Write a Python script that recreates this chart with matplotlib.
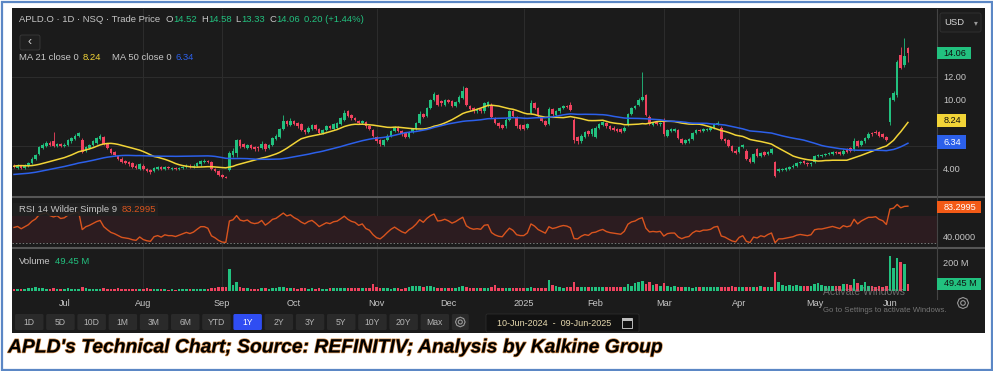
import matplotlib
matplotlib.use('Agg')
import matplotlib.pyplot as plt
import matplotlib.patheffects as pe
from matplotlib.patches import Rectangle, FancyBboxPatch, Circle, RegularPolygon
import numpy as np
import pandas as pd

# ------------------------------------------------------------------ data
start_date = '2024-06-10'
end_date = '2025-06-09'
holidays = ['2024-06-19', '2024-07-04', '2024-09-02', '2024-11-28', '2024-12-25',
            '2025-01-01', '2025-01-09', '2025-01-20', '2025-02-17', '2025-04-18',
            '2025-05-26']

# closes before the visible window (only used to warm up MA / RSI)
pre_close = [3.10, 3.00, 2.95, 3.05, 2.90, 2.85, 2.95, 3.00, 3.10, 3.05,
             2.95, 2.90, 2.85, 2.95, 3.00, 3.05, 3.10, 3.00, 2.95, 2.90,
             3.00, 3.05, 3.10, 3.00, 2.95, 3.05, 3.15, 3.10, 3.20,
             3.50, 3.90, 4.40, 4.80, 4.50, 4.20, 4.60, 4.30, 4.70, 4.40,
             4.10, 4.50, 4.20, 4.40, 4.00, 4.30, 3.90, 4.20, 4.00, 4.10]

opens = [4.30, 4.10, 4.30, 4.10, 4.30, 4.50, 4.90, 5.30, 5.80, 6.00,
         6.30, 6.40, 6.00, 6.20, 6.00, 6.10, 6.40, 6.60, 6.90, 6.50,
         5.60, 5.80, 6.10, 6.30, 6.60, 6.80, 6.20, 5.70, 5.50, 5.10,
         4.90, 4.70, 4.60, 4.50, 4.30, 4.00, 4.30, 4.00, 3.90, 3.80,
         4.00, 4.20, 4.00, 4.20, 4.00, 4.10, 4.00, 4.10, 4.20, 4.30,
         4.20, 4.30, 4.40, 4.60, 4.70, 4.60, 4.00, 3.80, 3.50, 3.30,
         3.90, 5.20, 5.40, 6.50, 6.20, 5.80, 6.10, 5.90, 5.90, 5.80,
         6.20, 5.80, 6.10, 6.60, 6.80, 7.50, 8.20, 7.80, 8.20, 8.00,
         7.90, 7.40, 7.20, 7.50, 7.80, 7.50, 7.10, 7.40, 7.70, 7.50,
         7.60, 7.90, 8.30, 9.00, 8.70, 8.40, 8.20, 8.00, 8.10, 7.70,
         7.40, 6.80, 6.50, 6.10, 6.50, 6.90, 7.30, 7.60, 7.30, 7.10,
         6.80, 7.20, 7.50, 8.00, 8.80, 8.60, 9.30, 10.00, 10.40, 9.90,
         9.60, 10.00, 9.90, 9.50, 9.80, 10.20, 11.00, 9.50, 9.30, 9.00,
         9.20, 9.00, 9.50, 9.60, 8.40, 8.00, 7.80, 7.70, 8.30, 9.00,
         8.50, 7.80, 7.80, 7.60, 8.90, 9.70, 9.30, 8.50, 8.20, 7.90,
         9.20, 8.70, 9.00, 9.30, 9.50, 9.60, 8.30, 6.80, 6.40, 6.80,
         7.30, 7.00, 6.80, 7.60, 7.80, 8.00, 7.70, 7.60, 7.50, 7.50,
         7.30, 7.80, 8.80, 9.30, 9.60, 10.00, 10.40, 8.50, 7.80, 8.10,
         7.90, 8.20, 6.90, 7.30, 7.30, 7.40, 6.60, 6.30, 6.40, 6.60,
         7.10, 7.40, 7.30, 7.40, 7.40, 7.60, 7.90, 7.60, 6.60, 6.50,
         6.00, 5.60, 5.50, 5.90, 5.60, 4.90, 4.60, 5.70, 5.10, 5.50,
         5.30, 5.40, 4.60, 3.80, 3.90, 3.90, 4.00, 4.20, 4.30, 4.50,
         4.70, 4.50, 4.40, 4.60, 5.10, 5.10, 5.20, 5.30, 5.30, 5.50,
         5.50, 5.30, 5.70, 5.80, 5.70, 6.40, 6.10, 6.40, 6.70, 7.10,
         7.20, 7.20, 7.00, 6.80, 8.10, 10.00, 10.40, 13.90, 13.00, 14.52]

highs = [4.40, 4.40, 4.35, 4.40, 4.60, 5.00, 5.30, 6.00, 6.25, 6.45,
         6.45, 7.20, 6.30, 6.30, 6.25, 6.60, 6.80, 7.00, 7.25, 6.70,
         6.00, 6.20, 6.50, 6.80, 7.00, 6.90, 6.30, 5.80, 5.60, 5.20,
         5.00, 4.80, 4.70, 4.60, 4.40, 4.50, 4.40, 4.10, 4.00, 4.20,
         4.30, 4.25, 4.30, 4.30, 4.20, 4.20, 4.20, 4.30, 4.40, 4.40,
         4.40, 4.60, 4.80, 4.85, 4.80, 4.70, 4.10, 3.90, 3.60, 3.40,
         5.60, 5.80, 6.60, 6.60, 6.30, 6.20, 6.20, 6.00, 6.00, 6.40,
         6.30, 6.20, 6.80, 7.00, 7.60, 8.70, 8.30, 8.40, 8.30, 8.10,
         8.00, 7.50, 7.70, 7.90, 7.90, 7.60, 7.50, 7.80, 7.80, 8.00,
         8.10, 8.50, 9.10, 9.10, 8.80, 8.50, 8.30, 8.30, 8.20, 7.80,
         7.50, 6.90, 6.60, 6.60, 7.00, 7.40, 7.70, 7.70, 7.40, 7.20,
         7.30, 7.60, 8.10, 9.00, 8.90, 9.40, 10.10, 10.70, 10.50, 10.00,
         10.10, 10.10, 10.00, 9.90, 10.40, 11.20, 11.10, 9.60, 9.40, 9.30,
         9.30, 9.80, 9.90, 9.70, 8.50, 8.10, 7.90, 8.40, 9.10, 9.10,
         8.60, 7.90, 7.90, 8.00, 10.00, 9.80, 9.40, 8.60, 8.30, 9.40,
         9.30, 9.10, 9.40, 9.60, 9.60, 9.80, 8.40, 6.90, 7.00, 7.30,
         7.40, 7.60, 7.70, 8.00, 8.20, 8.10, 7.80, 7.70, 7.60, 7.60,
         7.70, 8.90, 9.40, 9.60, 10.20, 12.40, 10.50, 8.70, 8.10, 8.20,
         8.10, 8.40, 7.50, 7.60, 7.60, 7.50, 6.70, 6.60, 6.70, 7.20,
         7.50, 7.50, 7.60, 7.60, 7.70, 8.00, 8.20, 7.70, 6.70, 6.60,
         6.10, 5.70, 6.00, 6.20, 5.70, 5.00, 5.40, 5.80, 5.50, 5.60,
         5.60, 5.80, 4.70, 4.10, 4.10, 4.20, 4.30, 4.40, 4.60, 4.70,
         4.80, 4.60, 4.60, 5.20, 5.30, 5.30, 5.40, 5.50, 5.60, 5.60,
         5.60, 5.70, 5.80, 5.90, 6.70, 6.50, 6.50, 6.80, 7.20, 7.20,
         7.40, 7.30, 7.10, 6.90, 10.30, 10.80, 13.50, 14.60, 15.40, 14.58]

lows = [4.10, 4.00, 4.00, 4.00, 4.20, 4.40, 4.80, 5.20, 5.70, 5.90,
        6.00, 5.90, 5.90, 5.90, 5.90, 6.00, 6.30, 6.50, 6.80, 5.40,
        5.50, 5.70, 6.00, 6.20, 6.50, 6.10, 5.70, 5.30, 5.10, 4.80,
        4.50, 4.40, 4.30, 4.10, 4.00, 3.90, 3.90, 3.70, 3.60, 3.70,
        3.90, 3.90, 3.90, 4.00, 3.90, 3.90, 3.90, 4.00, 4.10, 4.10,
        4.10, 4.20, 4.30, 4.50, 4.50, 3.90, 3.70, 3.40, 3.20, 3.20,
        3.80, 5.00, 5.00, 5.80, 5.80, 5.70, 5.70, 5.60, 5.60, 5.70,
        5.60, 5.70, 6.00, 6.50, 6.70, 7.40, 7.70, 7.70, 7.80, 7.60,
        7.30, 7.00, 7.10, 7.40, 7.40, 7.00, 7.00, 7.30, 7.50, 7.40,
        7.50, 7.80, 8.20, 8.50, 8.30, 8.20, 7.90, 7.90, 7.60, 7.40,
        6.80, 6.30, 6.00, 6.00, 6.40, 6.80, 7.20, 7.20, 6.90, 6.70,
        6.70, 7.10, 7.40, 7.90, 8.40, 8.50, 9.20, 9.90, 9.50, 9.50,
        9.50, 9.70, 9.40, 9.40, 9.70, 10.10, 9.50, 9.10, 8.90, 8.90,
        8.90, 8.90, 9.40, 8.40, 7.90, 7.60, 7.50, 7.60, 8.20, 8.50,
        7.60, 7.40, 7.40, 7.50, 8.80, 9.20, 8.50, 8.10, 7.70, 7.80,
        8.60, 8.60, 8.90, 9.20, 9.30, 9.00, 6.30, 6.20, 6.30, 6.70,
        6.90, 6.90, 6.70, 7.50, 7.70, 7.60, 7.40, 7.30, 7.20, 7.10,
        7.20, 7.70, 8.70, 9.20, 9.50, 9.90, 8.60, 7.80, 7.70, 7.80,
        7.70, 6.90, 6.80, 7.20, 7.20, 6.60, 6.20, 6.20, 6.30, 6.50,
        7.00, 7.20, 7.20, 7.30, 7.30, 7.50, 7.80, 6.50, 6.30, 5.90,
        5.50, 5.30, 5.40, 5.80, 4.80, 4.50, 4.50, 5.00, 5.00, 5.10,
        5.20, 5.30, 3.30, 3.70, 3.80, 3.80, 3.90, 4.10, 4.20, 4.40,
        4.40, 4.30, 4.30, 4.50, 5.00, 5.00, 5.10, 5.20, 5.20, 5.30,
        5.20, 5.20, 5.40, 5.50, 5.60, 5.90, 6.00, 6.30, 6.60, 6.90,
        7.00, 6.80, 6.70, 6.40, 7.80, 9.90, 10.30, 12.70, 12.90, 13.33]

closes = [4.20, 4.30, 4.10, 4.30, 4.50, 4.90, 5.20, 5.90, 6.10, 6.30,
          6.10, 6.00, 6.20, 6.00, 6.10, 6.50, 6.70, 6.90, 7.10, 5.50,
          5.90, 6.10, 6.40, 6.70, 6.90, 6.20, 5.80, 5.40, 5.20, 4.90,
          4.60, 4.50, 4.40, 4.20, 4.10, 4.40, 4.00, 3.80, 3.70, 4.10,
          4.20, 4.00, 4.20, 4.10, 4.10, 4.00, 4.10, 4.20, 4.30, 4.20,
          4.30, 4.50, 4.70, 4.70, 4.60, 4.00, 3.80, 3.50, 3.30, 3.25,
          5.40, 5.60, 6.50, 6.00, 5.90, 6.10, 5.80, 5.70, 5.80, 6.20,
          5.70, 6.10, 6.70, 6.90, 7.50, 8.20, 7.90, 8.20, 7.90, 7.70,
          7.40, 7.20, 7.60, 7.80, 7.50, 7.10, 7.40, 7.70, 7.60, 7.90,
          8.00, 8.40, 8.90, 8.60, 8.40, 8.30, 8.00, 8.20, 7.70, 7.50,
          6.90, 6.40, 6.20, 6.50, 6.90, 7.30, 7.60, 7.30, 7.00, 6.80,
          7.20, 7.50, 8.00, 8.80, 8.50, 9.30, 10.00, 10.50, 9.60, 9.70,
          10.00, 9.80, 9.50, 9.80, 10.30, 10.80, 9.60, 9.20, 9.00, 9.10,
          9.00, 9.70, 9.80, 8.50, 8.00, 7.70, 7.60, 8.30, 9.00, 8.60,
          7.70, 7.50, 7.50, 7.90, 9.70, 9.30, 8.60, 8.20, 7.80, 9.20,
          8.80, 9.00, 9.30, 9.50, 9.40, 9.10, 6.50, 6.40, 6.90, 7.20,
          7.00, 7.50, 7.60, 7.90, 8.10, 7.70, 7.50, 7.40, 7.30, 7.20,
          7.60, 8.80, 9.30, 9.50, 10.00, 10.30, 8.70, 7.90, 8.00, 7.90,
          8.00, 7.00, 7.40, 7.50, 7.50, 6.70, 6.30, 6.50, 6.60, 7.10,
          7.40, 7.30, 7.50, 7.50, 7.60, 7.90, 8.00, 6.60, 6.40, 6.00,
          5.60, 5.40, 5.90, 6.10, 4.90, 4.60, 5.30, 5.10, 5.40, 5.20,
          5.50, 5.70, 3.40, 4.00, 4.00, 4.10, 4.20, 4.30, 4.50, 4.60,
          4.50, 4.40, 4.50, 5.10, 5.20, 5.20, 5.30, 5.40, 5.50, 5.40,
          5.30, 5.60, 5.50, 5.60, 6.40, 6.00, 6.40, 6.70, 7.00, 7.00,
          7.10, 6.90, 6.80, 6.50, 10.20, 10.60, 13.30, 12.80, 13.86, 14.06]

volumes_m = [15, 12, 14, 12, 18, 20, 25, 18, 20, 16,
             15, 22, 14, 12, 15, 18, 16, 14, 15, 28,
             18, 14, 13, 12, 14, 18, 15, 14, 16, 18,
             15, 13, 12, 14, 13, 15, 16, 18, 17, 14,
             12, 11, 12, 10, 11, 10, 12, 11, 13, 12,
             14, 16, 15, 14, 16, 20, 22, 25, 30, 28,
             150, 40, 60, 25, 20, 18, 15, 14, 13, 20,
             18, 16, 22, 20, 25, 30, 22, 20, 18, 16,
             20, 18, 16, 18, 15, 18, 15, 14, 22, 20,
             24, 22, 23, 21, 20, 18, 20, 19, 21, 20,
             48, 28, 20, 18, 19, 17, 18, 20, 17, 22,
             30, 33, 35, 34, 30, 37, 36, 30, 20, 18,
             22, 18, 19, 20, 30, 32, 28, 20, 22, 20,
             18, 22, 20, 25, 41, 22, 20, 18, 21, 19,
             20, 22, 18, 20, 30, 24, 20, 22, 22, 76,
             41, 37, 25, 24, 26, 30, 64, 30, 28, 29,
             27, 30, 28, 27, 29, 28, 26, 27, 28, 30,
             30, 48, 35, 53, 60, 71, 48, 64, 40, 48,
             35, 55, 32, 30, 32, 28, 25, 26, 25, 24,
             26, 25, 27, 28, 30, 28, 26, 29, 30, 28,
             32, 30, 29, 28, 26, 30, 31, 28, 33, 27,
             30, 28, 133, 60, 38, 36, 40, 35, 38, 37,
             35, 36, 34, 50, 52, 40, 36, 33, 34, 35,
             36, 45, 45, 40, 83, 55, 42, 60, 33, 32,
             31, 33, 30, 32, 244, 156, 225, 202, 186, 49.45]

ticker_line = 'APLD.O · 1D · NSQ · Trade Price'
quote_fields = [('O', '14.52'), ('H', '14.58'), ('L', '13.33'), ('C', '14.06')]
quote_change = '0.20 (+1.44%)'
ma21_last = 8.24
ma50_last = 6.34
rsi_last = 83.2995
vol_last = 49.45
last_price = 14.06
price_ticks = [4, 10, 12]
price_grid = [4, 6, 12]
rsi_ticks = [40]
vol_ticks = [200]
grid_months = ['Aug', 'Sep', 'Nov', '2025', 'Mar', 'Apr']
range_buttons = ['1D', '5D', '10D', '1M', '3M', '6M', 'YTD', '1Y', '2Y', '3Y',
                 '5Y', '10Y', '20Y', 'Max']
active_button = '1Y'
date_range_text = '10-Jun-2024  -  09-Jun-2025'
caption = "APLD's Technical Chart; Source: REFINITIV; Analysis by Kalkine Group"

# ------------------------------------------------------------------ style
BG = '#1b1b1b'
GRID = '#2c2c2c'
SEP = '#565656'
TXT = '#c6c6c6'
GREEN = '#22c17f'
RED = '#f0435f'
YEL = '#f2d437'
BLUE = '#2c60ea'
ORANGE = '#d9541e'

plt.rcParams['font.family'] = ['Liberation Sans', 'DejaVu Sans']

W, H = 993, 371
fig = plt.figure(figsize=(W / 100, H / 100), dpi=100)
fig.patch.set_facecolor('white')

# background (pixel coordinates)
bg = fig.add_axes([0, 0, 1, 1], zorder=0)
bg.set_xlim(0, W); bg.set_ylim(H, 0); bg.axis('off')
bg.add_patch(Rectangle((12, 8), 973, 325, fc=BG, ec='none'))


def px_axes(x0, y0, x1, y1, z=2):
    a = fig.add_axes([x0 / W, 1 - y1 / H, (x1 - x0) / W, (y1 - y0) / H], zorder=z)
    a.set_facecolor('none')
    for s in a.spines.values():
        s.set_visible(False)
    return a


ax_p = px_axes(12, 9, 937, 196)
ax_r = px_axes(12, 198, 937, 247)
ax_v = px_axes(12, 249, 937, 292)

# ------------------------------------------------------------------ derived series
dates = pd.bdate_range(start_date, end_date, freq='C', holidays=holidays)
n = len(closes)
dates = dates[:n]
x = np.arange(n)
o = np.array(opens); h = np.array(highs); l = np.array(lows); c = np.array(closes)
up = c >= o
cols = np.where(up, GREEN, RED)

full = pd.Series(pre_close + closes)
ma21 = full.rolling(21, min_periods=1).mean().values[-n:]
ma50 = full.rolling(50, min_periods=1).mean().values[-n:]
d = full.diff()
gain = d.clip(lower=0).ewm(alpha=1 / 14, adjust=False).mean()
loss = (-d.clip(upper=0)).ewm(alpha=1 / 14, adjust=False).mean()
rsi = (100 - 100 / (1 + gain / loss)).values[-n:]

month_pos, month_lab = [], []
for i in range(1, n):
    if dates[i].month != dates[i - 1].month:
        month_pos.append(i)
        month_lab.append('2025' if dates[i].month == 1 else dates[i].strftime('%b'))
grid_pos = [p for p, lab in zip(month_pos, month_lab) if lab in grid_months]

XL = (-0.56, 257.1)
for a in (ax_p, ax_r, ax_v):
    a.set_xlim(*XL)
    for gp in grid_pos:
        a.axvline(gp, color=GRID, lw=0.8, zorder=0)
    a.yaxis.tick_right()
    a.tick_params(axis='y', length=0, pad=4.3, labelsize=6.6, labelcolor=TXT)
    a.tick_params(axis='x', length=0)

# ------------------------------------------------------------------ price panel
ax_p.set_ylim(1.652, 17.91)
for g in price_grid:
    ax_p.axhline(g, color=GRID, lw=0.8, zorder=0)
ax_p.vlines(x, l, h, colors=cols, lw=0.6, zorder=2)
ax_p.bar(x, np.maximum(np.abs(c - o), 0.04), bottom=np.minimum(o, c), width=0.72,
         color=cols, linewidth=0, zorder=3)
ax_p.plot(x, ma21, color=YEL, lw=1.1, zorder=4)
ax_p.plot(x, ma50, color=BLUE, lw=1.1, zorder=4)
ax_p.set_yticks(price_ticks)
ax_p.set_yticklabels([f'{t:.2f}' for t in price_ticks])
ax_p.set_xticks([])

# ------------------------------------------------------------------ RSI panel
ax_r.set_ylim(24.1, 96.7)
ax_r.fill_between(XL, 30, 70, color='#2c1c20', lw=0, zorder=0)
ax_r.axhline(30, color='#7a7a7a', lw=0.7, ls=(0, (1.5, 2)), zorder=1)
ax_r.plot(x, rsi, color=ORANGE, lw=1.0, zorder=3)
ax_r.set_yticks(rsi_ticks)
ax_r.set_yticklabels([f'{t:.4f}' for t in rsi_ticks])
ax_r.set_xticks([])

# ------------------------------------------------------------------ volume panel
ax_v.set_ylim(-6.9, 290)
ax_v.bar(x, volumes_m, width=0.72, color=cols, linewidth=0, zorder=3)
ax_v.set_yticks(vol_ticks)
ax_v.set_yticklabels([f'{t} M' for t in vol_ticks])
ax_v.set_xticks(month_pos)
ax_v.set_xticklabels(month_lab)
ax_v.tick_params(axis='x', pad=5.0, labelsize=6.6, labelcolor=TXT)

# ------------------------------------------------------------------ overlay
ov = fig.add_axes([0, 0, 1, 1], zorder=10)
ov.set_xlim(0, W); ov.set_ylim(H, 0); ov.axis('off')
ov.patch.set_alpha(0)
R = fig.canvas.get_renderer()


def oy(ax, v):
    return H - ax.transData.transform((0, v))[1]


def seq(x0, y0, parts, size=6.8, **kw):
    xx = x0
    for s, col, gap in parts:
        t = ov.text(xx, y0, s, color=col, fontsize=size, va='center', ha='left', zorder=3, **kw)
        xx += t.get_window_extent(R).width + gap
    return xx


# separators
for yy in (197, 248):
    ov.plot([12, 985], [yy, yy], color=SEP, lw=1.5, solid_capstyle='butt')
ov.plot([937, 937], [9, 299], color='#444444', lw=0.8)

# header texts
parts = [(ticker_line, TXT, 5)]
for k, v in quote_fields:
    parts += [(k, TXT, 0.5), (v, GREEN, 4)]
parts += [(quote_change, GREEN, 0)]
seq(19, 20, parts)
seq(19, 57, [('MA 21 close 0', TXT, 4), (f'{ma21_last:.2f}', YEL, 11),
             ('MA 50 close 0', TXT, 4), (f'{ma50_last:.2f}', BLUE, 0)])
ov.add_patch(Rectangle((13, 202.5), 145, 13, fc='#212121', ec='none', alpha=0.92, zorder=2))
seq(19, 209.5, [('RSI 14 Wilder Simple 9', TXT, 4), (f'{rsi_last:.4f}', ORANGE, 0)])
seq(19, 262, [('Volume', TXT, 4), (f'{vol_last:.2f} M', GREEN, 0)])

# back button
ov.add_patch(FancyBboxPatch((20, 35), 20, 15, boxstyle='round,pad=0,rounding_size=2',
                            fc='#1f1f1f', ec='#3a3a3a', lw=0.6))
ov.text(30, 42, '‹', color='#d0d0d0', fontsize=9, ha='center', va='center')

# USD box
ov.add_patch(FancyBboxPatch((940, 13), 41, 19, boxstyle='round,pad=0,rounding_size=2',
                            fc='#1e1e1e', ec='#333333', lw=0.6))
ov.text(944, 22.5, 'USD', color='#d6d6d6', fontsize=6.8, va='center')
ov.text(976, 22.5, '▾', color='#9a9a9a', fontsize=5.5, va='center', ha='center',
        family='DejaVu Sans')


def value_box(yc, text, fc, tc, hgt=12):
    t = ov.text(943.5, yc, text, color=tc, fontsize=6.6, va='center', ha='left', zorder=6)
    w = t.get_window_extent(R).width
    ov.add_patch(Rectangle((937, yc - hgt / 2), w + 11, hgt, fc=fc, ec='none', zorder=5))


value_box(oy(ax_p, last_price), f'{last_price:.2f}', GREEN, '#101010')
value_box(oy(ax_p, ma21_last), f'{ma21_last:.2f}', YEL, '#101010', hgt=13)
value_box(oy(ax_p, ma50_last), f'{ma50_last:.2f}', BLUE, '#ffffff', hgt=14)
value_box(oy(ax_r, rsi_last), f'{rsi_last:.4f}', '#f35a16', '#ffffff')
value_box(oy(ax_v, vol_last), f'{vol_last:.2f} M', GREEN, '#101010')


def gear(cx, cy, r=5.5, col='#9a9a9a'):
    ov.add_patch(RegularPolygon((cx, cy), numVertices=8, radius=r, fc='none', ec=col, lw=0.8))
    ov.add_patch(Circle((cx, cy), r * 0.42, fc='none', ec=col, lw=0.8))


gear(963, 303)

# range buttons
bx = 15
for lab in range_buttons:
    active = lab == active_button
    ov.add_patch(FancyBboxPatch((bx, 314), 28.5, 16, boxstyle='round,pad=0,rounding_size=1.5',
                                fc='#2f4df2' if active else '#2a2a2a', ec='none'))
    ov.text(bx + 14.25, 322.3, lab, color='#ffffff' if active else '#b4b4b4', fontsize=6.2,
            ha='center', va='center')
    bx += 31.2
ov.add_patch(FancyBboxPatch((bx, 314), 17, 16, boxstyle='round,pad=0,rounding_size=1.5',
                            fc='#2a2a2a', ec='none'))
gear(bx + 8.5, 322, r=4.8)

# date range box
ov.add_patch(FancyBboxPatch((486, 314), 153, 18, boxstyle='round,pad=0,rounding_size=1.5',
                            fc='#121212', ec='#2c2c2c', lw=0.6))
ov.text(497, 323, date_range_text, color='#e6d9ae', fontsize=6.5, va='center', ha='left')
ov.add_patch(Rectangle((622, 318), 10, 10, fc='none', ec='#bdbdbd', lw=0.7))
ov.add_patch(Rectangle((622, 318), 10, 2.5, fc='#bdbdbd', ec='none'))

# windows watermark
ov.text(823, 292, 'Activate Windows', color='#8c8c8c', fontsize=7.5, va='center',
        ha='left', alpha=0.7, zorder=8)
ov.text(823, 310.5, 'Go to Settings to activate Windows.', color='#8c8c8c', fontsize=5.6,
        va='center', ha='left', alpha=0.8, zorder=8)

# caption
ov.text(8, 348, caption, color='black', fontsize=13.9, fontweight='bold', fontstyle='italic',
        va='center', ha='left',
        path_effects=[pe.withStroke(linewidth=1.0, foreground='#d08a48')])

# outer border
ov.add_patch(Rectangle((1.5, 1.5), W - 3, H - 3, fc='none', ec='#5b87c5', lw=1.6))

fig.savefig('out.png', dpi=100, facecolor='white')
